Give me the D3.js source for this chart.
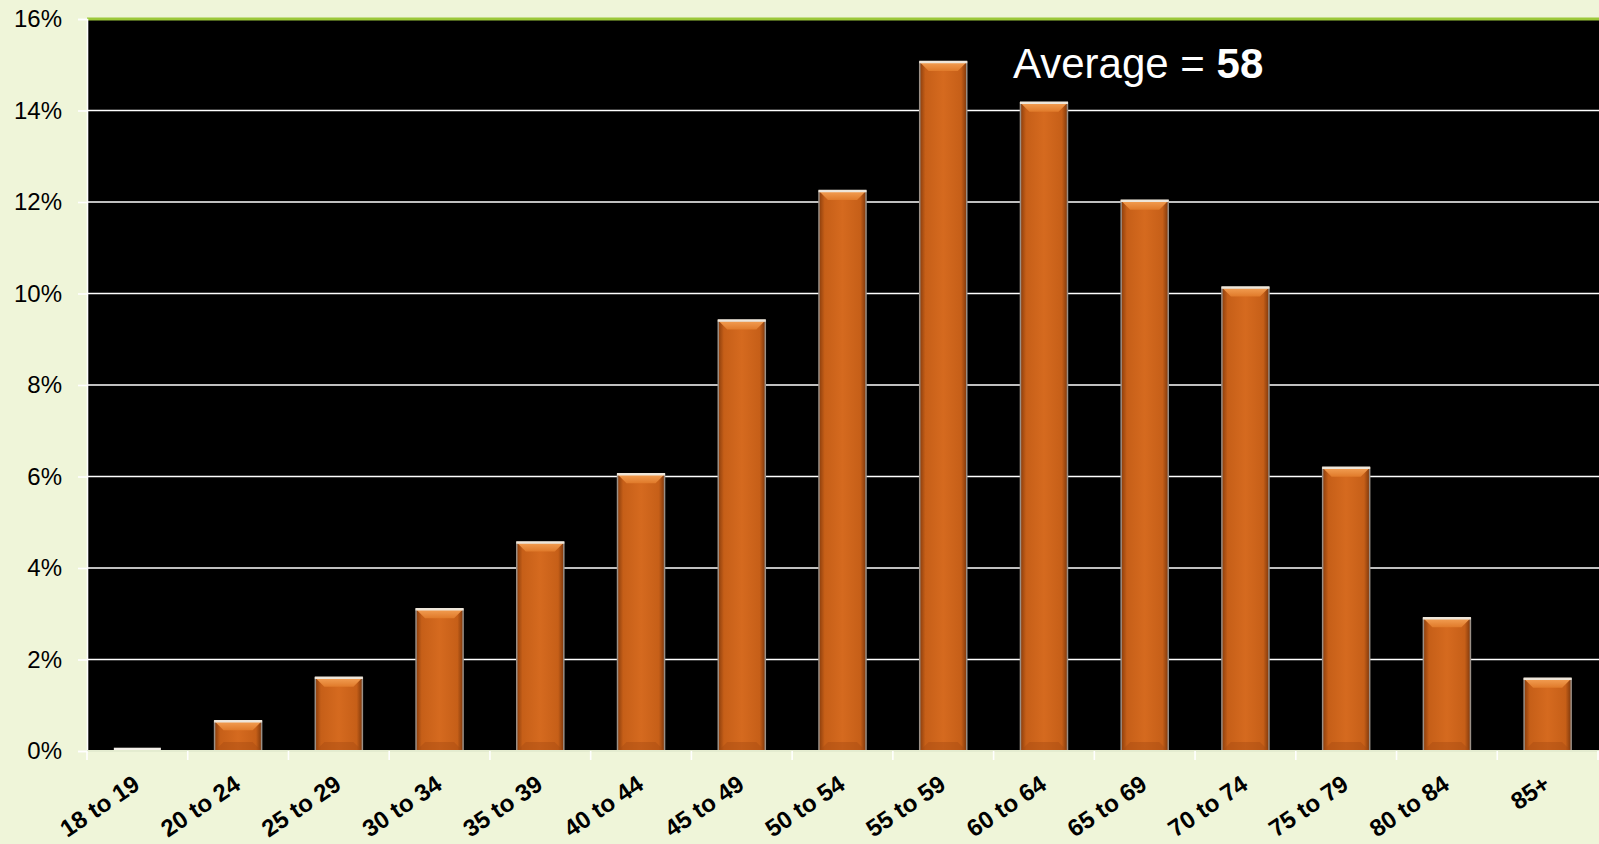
<!DOCTYPE html>
<html>
<head>
<meta charset="utf-8">
<script src="https://cdn.jsdelivr.net/npm/d3@7"></script>
<style>
  html, body { margin: 0; padding: 0; background: #eff5d9; }
  svg { display: block; }
  text { font-family: "Liberation Sans", Arial, sans-serif; }
</style>
</head>
<body>
<svg id="chart" width="1599" height="844"></svg>
<script>
// Share of respondents by age group (%)
const ageGroups = ["18 to 19", "20 to 24", "25 to 29", "30 to 34", "35 to 39", "40 to 44",
  "45 to 49", "50 to 54", "55 to 59", "60 to 64", "65 to 69", "70 to 74", "75 to 79", "80 to 84", "85+"];
const shares = [0.05, 0.65, 1.6, 3.1, 4.56, 6.05, 9.41, 12.24, 15.06, 14.17, 12.03, 10.13, 6.19, 2.9, 1.58];
const yTicks = [0, 2, 4, 6, 8, 10, 12, 14, 16];
const averageAge = 58;

const svg = d3.select("#chart");
const plotLeft = 87, plotRight = 1598, plotTop = 19, plotBottom = 751;

const x = d3.scaleBand().domain(ageGroups).range([plotLeft, plotRight])
  .paddingInner(0.533).paddingOuter(0.2665);
const y = d3.scaleLinear().domain([0, 16]).range([plotBottom, plotTop]);
const step = x.step();

// gradients for the bevelled bars
const defs = svg.append("defs");
const body = defs.append("linearGradient").attr("id", "barBody").attr("x1", 0).attr("x2", 1).attr("y1", 0).attr("y2", 0);
[[0, "#8a3d0c"], [0.12, "#c65f18"], [0.5, "#d56a1f"], [0.88, "#c65f18"], [1, "#7f380b"]]
  .forEach(([o, c]) => body.append("stop").attr("offset", o).attr("stop-color", c));
const cap = defs.append("linearGradient").attr("id", "barCap").attr("x1", 0).attr("x2", 0).attr("y1", 0).attr("y2", 1);
[[0, "#f3a055"], [1, "#e07a2a"]].forEach(([o, c]) => cap.append("stop").attr("offset", o).attr("stop-color", c));

// plot area
svg.append("rect").attr("x", plotLeft).attr("y", plotTop).attr("width", 1599 - plotLeft).attr("height", plotBottom - plotTop)
  .attr("fill", "#000");

// horizontal gridlines
svg.append("g").selectAll("line").data(yTicks.filter(t => t > 0 && t < 16)).join("line")
  .attr("x1", plotLeft).attr("x2", 1599).attr("y1", d => y(d)).attr("y2", d => y(d))
  .attr("stroke", "#fff").attr("stroke-width", 1.6);

// top border of the plot
svg.append("line").attr("x1", plotLeft).attr("x2", 1599).attr("y1", y(16)).attr("y2", y(16))
  .attr("stroke", "#9cc83a").attr("stroke-width", 3);

// y axis
const yAxis = d3.axisLeft(y).tickValues(yTicks).tickFormat(d => d + "%").tickSize(9).tickPadding(16);
const yg = svg.append("g").attr("transform", `translate(${plotLeft},0)`).call(yAxis);
yg.select(".domain").attr("stroke", "#fff").attr("stroke-width", 1.6);
yg.selectAll(".tick line").attr("stroke", "#fff").attr("stroke-width", 1.6);
yg.selectAll(".tick text").attr("fill", "#000").attr("font-size", 24)
  .attr("font-family", "'Liberation Sans', Arial, sans-serif");

// bars
const bevel = 9;
const bars = svg.append("g").selectAll("g").data(ageGroups.map((g, i) => ({ g, v: shares[i] }))).join("g");
bars.each(function (d) {
  const g = d3.select(this);
  const x0 = x(d.g), w = x.bandwidth(), y0 = y(d.v), h = plotBottom - y0;
  const b = Math.min(bevel, h / 2);
  if (h < 4) {
    g.append("rect").attr("x", x0).attr("y", y0 - 1).attr("width", w).attr("height", Math.max(h, 1) + 1)
      .attr("fill", "#f4f0ea");
    return;
  }
  g.append("rect").attr("x", x0).attr("y", y0).attr("width", w).attr("height", h).attr("fill", "url(#barBody)");
  // lighter top facet
  g.append("path").attr("d", `M${x0},${y0}L${x0 + w},${y0}L${x0 + w - b},${y0 + b}L${x0 + b},${y0 + b}Z`)
    .attr("fill", "url(#barCap)");
  // darker bottom facet
  g.append("path").attr("d", `M${x0},${plotBottom}L${x0 + w},${plotBottom}L${x0 + w - b},${plotBottom - b}L${x0 + b},${plotBottom - b}Z`)
    .attr("fill", "#a84c12").attr("opacity", 0.45);
  // outline
  g.append("rect").attr("x", x0).attr("y", y0).attr("width", w).attr("height", h)
    .attr("fill", "none").attr("stroke", "#9a8f86").attr("stroke-width", 1.5);
  g.append("line").attr("x1", x0 - 0.5).attr("x2", x0 + w + 0.5).attr("y1", y0).attr("y2", y0)
    .attr("stroke", "#eee6da").attr("stroke-width", 2.5);
});

// x axis baseline and category separators
svg.append("line").attr("x1", plotLeft).attr("x2", 1599).attr("y1", plotBottom).attr("y2", plotBottom)
  .attr("stroke", "#e4ecd0").attr("stroke-width", 2);
svg.append("g").selectAll("line").data(d3.range(ageGroups.length + 1)).join("line")
  .attr("x1", i => plotLeft + i * step).attr("x2", i => plotLeft + i * step)
  .attr("y1", plotBottom).attr("y2", plotBottom + 9).attr("stroke", "#fff").attr("stroke-width", 1.6);

// category labels
svg.append("g").selectAll("text").data(ageGroups).join("text")
  .attr("transform", d => `translate(${x(d) + x.bandwidth() / 2 + 4},${plotBottom + 37}) rotate(-34)`)
  .attr("text-anchor", "end").attr("font-weight", "bold").attr("font-size", 24).attr("fill", "#000")
  .text(d => d);

// average annotation
const avg = svg.append("text").attr("x", 1013).attr("y", 78).attr("font-size", 42).attr("fill", "#fff");
avg.append("tspan").text("Average = ");
avg.append("tspan").attr("font-weight", "bold").text(averageAge);
</script>
</body>
</html>
